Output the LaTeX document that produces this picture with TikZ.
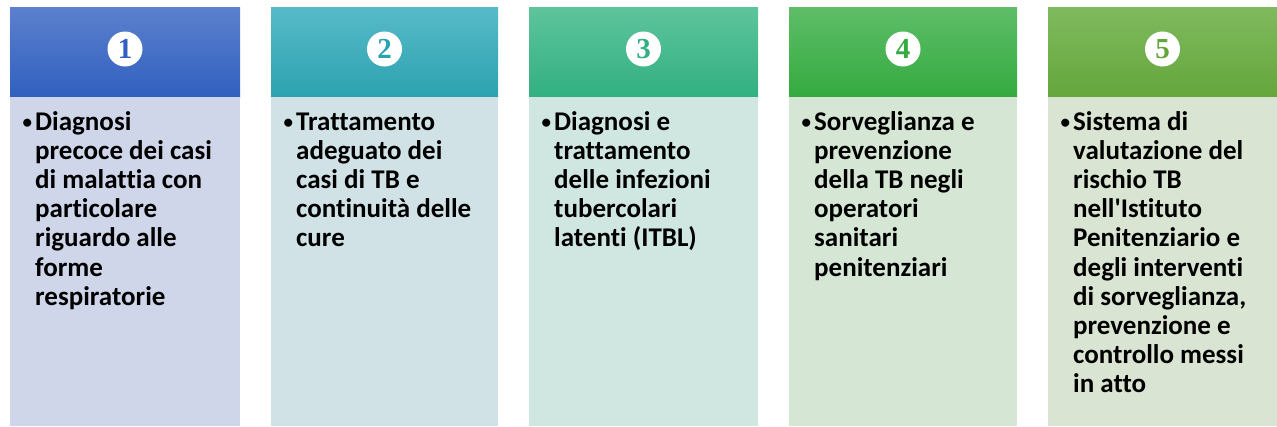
\documentclass[tikz,border=0pt]{standalone}
\usepackage{fontspec}
\setmainfont{Carlito}[Ligatures={TeX,NoCommon}]
\newfontfamily\digitfont{Liberation Serif}
\definecolor{hAtop}{RGB}{92,128,206}\definecolor{hAbot}{RGB}{48,96,190}
\definecolor{hBtop}{RGB}{88,186,200}\definecolor{hBbot}{RGB}{44,162,176}
\definecolor{hCtop}{RGB}{94,196,156}\definecolor{hCbot}{RGB}{50,176,130}
\definecolor{hDtop}{RGB}{94,190,104}\definecolor{hDbot}{RGB}{52,170,64}
\definecolor{hEtop}{RGB}{128,186,94}\definecolor{hEbot}{RGB}{100,166,60}
\definecolor{bA}{RGB}{208,214,233}
\definecolor{bB}{RGB}{208,226,230}
\definecolor{bC}{RGB}{208,230,224}
\definecolor{bD}{RGB}{213,230,213}
\definecolor{bE}{RGB}{217,228,210}
\tikzset{
  x=1pt, y=-1pt,
  numcirc/.style={circle, fill=white, minimum size=35pt, inner sep=0,
     font=\digitfont\bfseries\fontsize{29}{29}\selectfont},
  bulletmark/.style={anchor=base west, inner sep=0, font=\bfseries\fontsize{19}{19}\selectfont},
  bullettext/.style={anchor=base west, inner sep=0, font=\bfseries\fontsize{27}{29.2}\selectfont},
}
\newcommand{\colbox}[8]{%
  % #1 left x, #2 right x, #3 top colour, #4 bottom colour, #5 body colour, #6 digit, #7 name, #8 text
  \shade[top color=#3, bottom color=#4] (#1,7) rectangle (#2,97);
  \fill[#5] (#1,97) rectangle (#2,426);
  \node[numcirc, text=#4] (#7num) at ({(#1+#2)/2},49) {#6};
  \node[bulletmark] (#7bul) at ({#1+12.5},128) {•};
  \node[bullettext] (#7txt) at ({#1+25},130) {\parbox[t]{210pt}{\raggedright\baselineskip=29.2pt #8}};
}
\begin{document}
\begin{tikzpicture}
\useasboundingbox (0,0) rectangle (1277,426);
\fill[white] (0,0) rectangle (1277,426);
\colbox{10}{240}{hAtop}{hAbot}{bA}{1}{a}{Diagnosi\\precoce dei casi\\di malattia con\\particolare\\riguardo alle\\forme\\respiratorie}
\colbox{271}{498}{hBtop}{hBbot}{bB}{2}{b}{Trattamento\\adeguato dei\\casi di TB e\\continuità delle\\cure}
\colbox{529}{758}{hCtop}{hCbot}{bC}{3}{c}{Diagnosi e\\trattamento\\delle infezioni\\tubercolari\\latenti (ITBL)}
\colbox{789}{1017}{hDtop}{hDbot}{bD}{4}{d}{Sorveglianza e\\prevenzione\\della TB negli\\operatori\\sanitari\\penitenziari}
\colbox{1048}{1277}{hEtop}{hEbot}{bE}{5}{e}{Sistema di\\valutazione del\\rischio TB\\nell\textquotesingle Istituto\\Penitenziario e\\degli interventi\\di sorveglianza,\\prevenzione e\\controllo messi\\in atto}
\end{tikzpicture}
\end{document}
